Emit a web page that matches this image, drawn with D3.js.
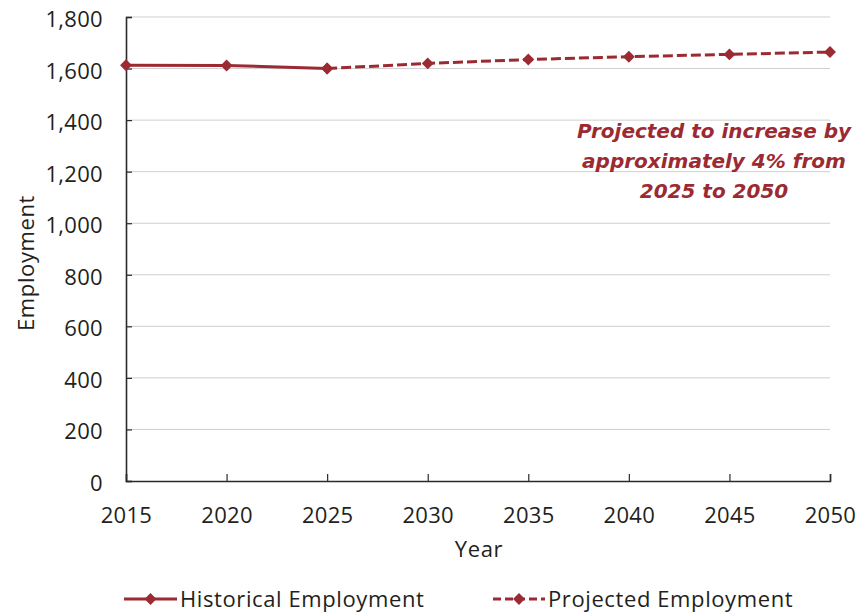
<!DOCTYPE html>
<html>
<head>
<meta charset="utf-8">
<script src="https://cdn.jsdelivr.net/npm/d3@7"></script>
<style>
  html, body { margin: 0; padding: 0; background: #fff; }
  svg { display: block; }
  text { font-family: "Open Sans", Lato, sans-serif; fill: #231f20; }
  text.note { font-family: "DejaVu Sans", sans-serif; font-weight: bold; font-style: italic; }
</style>
</head>
<body>
<svg id="chart" width="865" height="614"></svg>
<script>
// Employment, historical and projected
const histYears = [2015, 2020, 2025];
const histValues = [1613, 1612, 1600];
const projYears = [2025, 2030, 2035, 2040, 2045, 2050];
const projValues = [1600, 1620, 1635, 1646, 1655, 1664];
const xTicks = [2015, 2020, 2025, 2030, 2035, 2040, 2045, 2050];
const yTicks = [0, 200, 400, 600, 800, 1000, 1200, 1400, 1600, 1800];
const noteLines = ["Projected to increase by", "approximately 4% from", "2025 to 2050"];
const legendLabels = ["Historical Employment", "Projected Employment"];

const color = "#9b2a33";
const ink = "#231f20";
const svg = d3.select("#chart");
const m = { left: 126, right: 830, top: 17, bottom: 481 };

const x = d3.scaleLinear().domain([2015, 2050]).range([m.left, m.right]);
const y = d3.scaleLinear().domain([0, 1800]).range([m.bottom, m.top]);

// gridlines
svg.append("g").selectAll("line").data(yTicks.filter(d => d > 0)).join("line")
  .attr("x1", m.left).attr("x2", m.right)
  .attr("y1", d => y(d)).attr("y2", d => y(d))
  .attr("stroke", "#cfcfcf").attr("stroke-width", 1);

// y axis: ticks point into the plot
const yAxis = svg.append("g").attr("transform", `translate(${m.left},0)`)
  .call(d3.axisRight(y).tickValues(yTicks).tickSize(6).tickFormat(d3.format(",")));
yAxis.select(".domain").attr("stroke", "#2a2a2a").attr("stroke-width", 1.6);
yAxis.selectAll(".tick line").attr("stroke", "#2a2a2a").attr("stroke-width", 1.2);
yAxis.selectAll(".tick text").attr("x", -23).attr("dy", "0.43em").attr("text-anchor", "end")
  .attr("font-size", 22).attr("letter-spacing", 0.3).attr("fill", ink);

// x axis: ticks point upward
const xAxis = svg.append("g").attr("transform", `translate(0,${m.bottom})`)
  .call(d3.axisTop(x).tickValues(xTicks).tickSize(7).tickFormat(d3.format("d")));
xAxis.select(".domain").attr("stroke", "#2a2a2a").attr("stroke-width", 1.6);
xAxis.selectAll(".tick line").attr("stroke", "#2a2a2a").attr("stroke-width", 1.2);
xAxis.selectAll(".tick text").attr("y", 42).attr("font-size", 22).attr("letter-spacing", 0.3)
  .attr("fill", ink);

// axis titles
svg.append("text").attr("x", 479).attr("y", 557)
  .attr("text-anchor", "middle").attr("font-size", 22).attr("letter-spacing", 0.6).text("Year");
svg.append("text").attr("transform", "translate(34,263) rotate(-90)")
  .attr("text-anchor", "middle").attr("font-size", 22).attr("letter-spacing", 0.6).text("Employment");

const diamond = d3.symbol().type(d3.symbolDiamond2).size(90);
const line = d3.line().x(d => x(d[0])).y(d => y(d[1]));

function series(years, values, dash) {
  const pts = years.map((yr, i) => [yr, values[i]]);
  svg.append("path").datum(pts).attr("d", line)
    .attr("fill", "none").attr("stroke", color).attr("stroke-width", 3)
    .attr("stroke-dasharray", dash);
  svg.append("g").selectAll("path").data(pts).join("path")
    .attr("d", diamond).attr("fill", color)
    .attr("transform", d => `translate(${x(d[0])},${y(d[1])})`);
}
series(projYears, projValues, "10,4");
series(histYears, histValues, null);

// annotation
const note = svg.append("text").attr("class", "note").attr("text-anchor", "middle")
  .attr("font-size", 20);
noteLines.forEach((t, i) => {
  note.append("tspan").attr("x", 714).attr("y", 138 + i * 30).attr("fill", color).text(t);
});

// legend
const legend = [
  { label: legendLabels[0], x0: 124, x1: 177, dash: null },
  { label: legendLabels[1], x0: 493, x1: 545, dash: "8,4" }
];
const ly = 599;
legend.forEach(d => {
  svg.append("line").attr("x1", d.x0).attr("x2", d.x1).attr("y1", ly).attr("y2", ly)
    .attr("stroke", color).attr("stroke-width", 3).attr("stroke-dasharray", d.dash);
  svg.append("path").attr("d", diamond).attr("fill", color)
    .attr("transform", `translate(${(d.x0 + d.x1) / 2},${ly})`);
  svg.append("text").attr("x", d.x1 + 3).attr("y", 607).attr("font-size", 22)
    .attr("letter-spacing", 0.6).text(d.label);
});
</script>
</body>
</html>
